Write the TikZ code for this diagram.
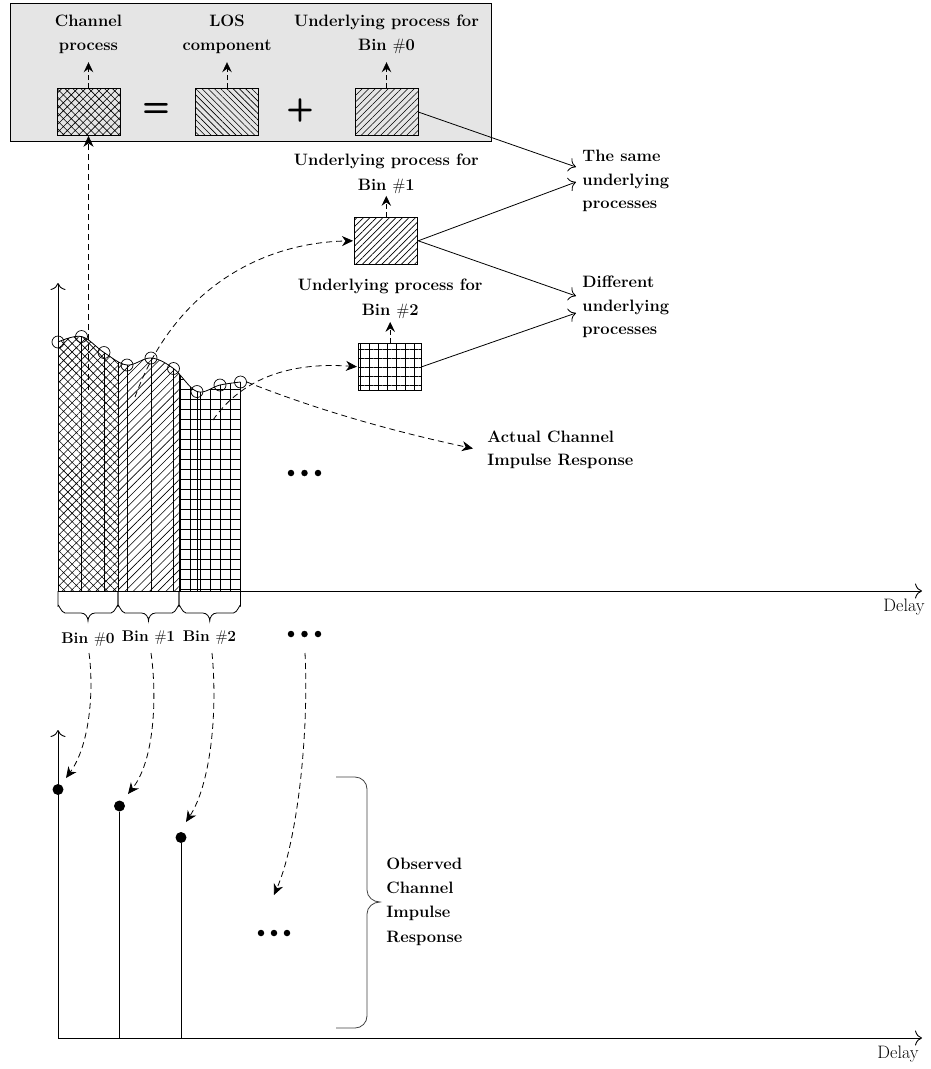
\documentclass[tikz,border=0pt]{standalone}
\usepackage{fontspec}
\usetikzlibrary{arrows.meta,patterns.meta}
\tikzset{
  lbl/.style={font=\fontsize{16.5}{24.5}\selectfont\bfseries, align=center, inner sep=0pt},
  lbll/.style={lbl, align=left},
  binlbl/.style={font=\fontsize{15.5}{18}\selectfont\bfseries, inner sep=0pt},
  procbox/.style={draw, line width=0.9pt, minimum width=63pt, minimum height=47pt, inner sep=0pt},
  crossfill/.style={pattern={Hatch[angle=45,distance=5.6pt,line width=0.6pt]}},
  bincrossfill/.style={pattern={Hatch[angle=45,distance=6pt,line width=0.6pt]}},
  backfill/.style={pattern={Lines[angle=-45,distance=4.4pt,line width=0.6pt]}},
  fwdfill/.style={pattern={Lines[angle=45,distance=4.6pt,line width=0.6pt]}},
  binfwdfill/.style={pattern={Lines[angle=45,distance=5.8pt,line width=0.6pt]}},
  gridfill/.style={pattern={Hatch[angle=0,distance=9pt,line width=0.6pt]}},
  bingridfill/.style={pattern={Hatch[angle=0,distance=10pt,line width=0.6pt]}},
  dasharrow/.style={line width=0.8pt, dash pattern=on 6pt off 4pt, -{Stealth[length=11pt,width=10pt,inset=3.5pt]}},
  uparrow/.style={line width=0.8pt, dash pattern=on 5pt off 3pt, -{Stealth[length=10pt,width=9.5pt,inset=3.5pt]}},
  openarrow/.style={line width=0.8pt, -{To[length=7pt,width=14pt]}},
  axis/.style={line width=0.9pt, -{To[length=7pt,width=15pt]}},
  sample/.style={circle, draw, line width=0.7pt, minimum size=12pt, inner sep=0pt},
  peak/.style={circle, fill, minimum size=11pt, inner sep=0pt},
  dotmark/.style={circle, fill, minimum size=6.5pt, inner sep=0pt},
  opsign/.style={font=\fontsize{32}{32}\selectfont\sffamily\bfseries, inner sep=0pt},
  axlbl/.style={font=\fontsize{18}{20}\selectfont, inner sep=0pt},
}
\begin{document}
\begin{tikzpicture}[x=1pt, y=-1pt, line width=0.9pt]
\useasboundingbox (0,0) rectangle (931,1069);

% ---- composition panel ----
\draw[fill=black!10, line width=1pt] (10.5,3.5) rectangle (491,141.5);
\node[procbox, crossfill] (cp)  at (88.5,112) {};
\node[procbox, backfill]  (los) at (227,112) {};
\node[procbox, fwdfill]   (b0)  at (386.5,112) {};
\node[opsign] (eq)   at (156,110) {=};
\node[opsign] (plus) at (300,110) {+};
\node[lbl] (tcp)  at (88.5,34.5) {Channel\\process};
\node[lbl] (tlos) at (227,34.5) {LOS\\component};
\node[lbl] (tb0)  at (386.5,34.5) {Underlying process for\\Bin {\mdseries\#}0};
\draw[uparrow] (cp.north)  -- ++(0,-26);
\draw[uparrow] (los.north) -- ++(0,-26);
\draw[uparrow] (b0.north)  -- ++(0,-26);

% ---- per-bin processes ----
\node[procbox, fwdfill]  (b1) at (386.3,240.8) {};
\node[procbox, gridfill] (b2) at (390.2,366.7) {};
\node[lbl] (tb1) at (386.3,174) {Underlying process for\\Bin {\mdseries\#}1};
\node[lbl] (tb2) at (390.2,299) {Underlying process for\\Bin {\mdseries\#}2};
\draw[uparrow] (b1.north) -- ++(0,-21);
\draw[uparrow] (b2.north) -- ++(0,-21);

\node[lbll, anchor=west, font=\fontsize{16.5}{23.5}\selectfont\bfseries] (same) at (582,181) {The same\\underlying\\processes};
\node[lbll, anchor=west, font=\fontsize{16.5}{23.5}\selectfont\bfseries] (diff) at (582,307) {Different\\underlying\\processes};
\coordinate (sameA) at (576,167);
\coordinate (sameB) at (576,182);
\coordinate (diffA) at (576,296);
\coordinate (diffB) at (576,313);
\draw[openarrow] (b0.east) -- (sameA);
\draw[openarrow] (b1.east) -- (sameB);
\draw[openarrow] (b1.east) -- (diffA);
\draw[openarrow] (b2.east) -- (diffB);

% ---- actual channel impulse response ----
\begin{scope}
  \clip (58,591) -- plot[smooth, tension=0.6] coordinates {(58,342) (81.5,336.5) (104,352.5) (127,365) (151,358) (173.5,368.5) (197,391.5) (220,385) (240.5,382)} -- (240.5,591) -- cycle;
  \fill[bincrossfill] (58,280)  rectangle (118,591);
  \fill[binfwdfill]   (118,280) rectangle (179,591);
  \fill[bingridfill]  (179,280) rectangle (240.5,591);
  \foreach \sx in {81.5,104,118,127,151,173.5,179,197,220}
    \draw[line width=0.8pt] (\sx,591) -- (\sx,300);
\end{scope}
\draw[line width=0.8pt] plot[smooth, tension=0.6] coordinates {(58,342) (81.5,336.5) (104,352.5) (127,365) (151,358) (173.5,368.5) (197,391.5) (220,385) (240.5,382)};
\draw[line width=0.8pt] (240.5,382) -- (240.5,591);
\node[sample] (s1) at (58,342) {};
\node[sample] (s2) at (81.5,336.5) {};
\node[sample] (s3) at (104,352.5) {};
\node[sample] (s4) at (127,365) {};
\node[sample] (s5) at (151,358) {};
\node[sample] (s6) at (173.5,368.5) {};
\node[sample] (s7) at (197,391.5) {};
\node[sample] (s8) at (220,385) {};
\node[sample] (s9) at (240.5,382) {};

\coordinate (o1) at (58,591);
\coordinate (y1) at (58,283);
\coordinate (x1) at (922,591);
\draw[axis] (o1) -- (y1);
\draw[axis] (o1) -- (x1);
\node[axlbl] (delay1) at (904,607) {Delay};

% bin braces
\foreach \a/\b in {58/118, 118/179, 179/240.5}{
  \pgfmathsetmacro{\m}{(\a+\b)/2}
  \draw[line width=0.8pt] (\a,591) -- (\a,606) to[out=90,in=180] (\a+7,613) -- (\m-7,613)
      to[out=0,in=90] (\m,621) to[out=90,in=180] (\m+7,613) -- (\b-7,613) to[out=0,in=90] (\b,606) -- (\b,591);
}
\node[binlbl] (bin0) at (88,640) {Bin {\mdseries\#}0};
\node[binlbl] (bin1) at (148.5,638) {Bin {\mdseries\#}1};
\node[binlbl] (bin2) at (209.5,638) {Bin {\mdseries\#}2};

% ellipses
\foreach \yy in {473,634}{
  \foreach \xx in {291,304.5,318} \node[dotmark] at (\xx,\yy) {};
}
\foreach \xx in {261,274,287} \node[dotmark] at (\xx,933) {};

% links from samples to the processes
\coordinate (cpStart) at (88.5,390);
\draw[dasharrow] (cpStart) -- (cp.south);
\coordinate (b1Start) at (135,397);
\coordinate (b1In) at (353,240.8);
\draw[dasharrow] (b1Start) .. controls (172,295) and (255,243) .. (b1In);
\coordinate (b2Start) at (213,420);
\coordinate (b2In) at (357,366.7);
\draw[dasharrow] (b2Start) .. controls (243,377) and (292,362) .. (b2In);
\coordinate (actIn) at (473,448.5);
\draw[dasharrow] (s9.east) .. controls (330,415) and (410,435) .. (actIn);
\node[lbll, anchor=west, font=\fontsize{16.5}{23}\selectfont\bfseries] (actual) at (487,450) {Actual Channel\\Impulse Response};

% ---- observed channel impulse response ----
\coordinate (o2) at (58,1038);
\coordinate (y2) at (58,730);
\coordinate (x2) at (922,1038);
\draw[axis] (o2) -- (y2);
\draw[axis] (o2) -- (x2);
\node[axlbl] (delay2) at (898,1054) {Delay};

\node[peak] (p0) at (58,789.5) {};
\node[peak] (p1) at (119.5,806) {};
\node[peak] (p2) at (181,837.5) {};
\coordinate (f1) at (119.5,1038);
\coordinate (f2) at (181,1038);
\draw[line width=0.8pt] (p1) -- (f1);
\draw[line width=0.8pt] (p2) -- (f2);

\coordinate (a0) at (89,653);
\coordinate (a1) at (151,653);
\coordinate (a2) at (212,653);
\coordinate (a3) at (305,653);
\coordinate (e0) at (66,778);
\coordinate (e1) at (128,794);
\coordinate (e2) at (186,822);
\coordinate (e3) at (274,895);
\draw[dasharrow] (a0) .. controls (94,690) and (90,745) .. (e0);
\draw[dasharrow] (a1) .. controls (157,695) and (155,760) .. (e1);
\draw[dasharrow] (a2) .. controls (218,715) and (210,785) .. (e2);
\draw[dasharrow] (a3) .. controls (309,730) and (298,840) .. (e3);

% brace grouping the observed taps
\draw[line width=0.8pt, black!75] (336,777) -- (355,777) to[out=0,in=90] (367,789) -- (367,890)
   to[out=-90,in=180] (380,902) to[out=180,in=90] (367,914) -- (367,1016) to[out=-90,in=0] (355,1028) -- (336,1028);
\node[lbll, anchor=west, font=\fontsize{16.5}{24.3}\selectfont\bfseries] (observed) at (386,901.5) {Observed\\Channel\\Impulse\\Response};
\end{tikzpicture}
\end{document}
